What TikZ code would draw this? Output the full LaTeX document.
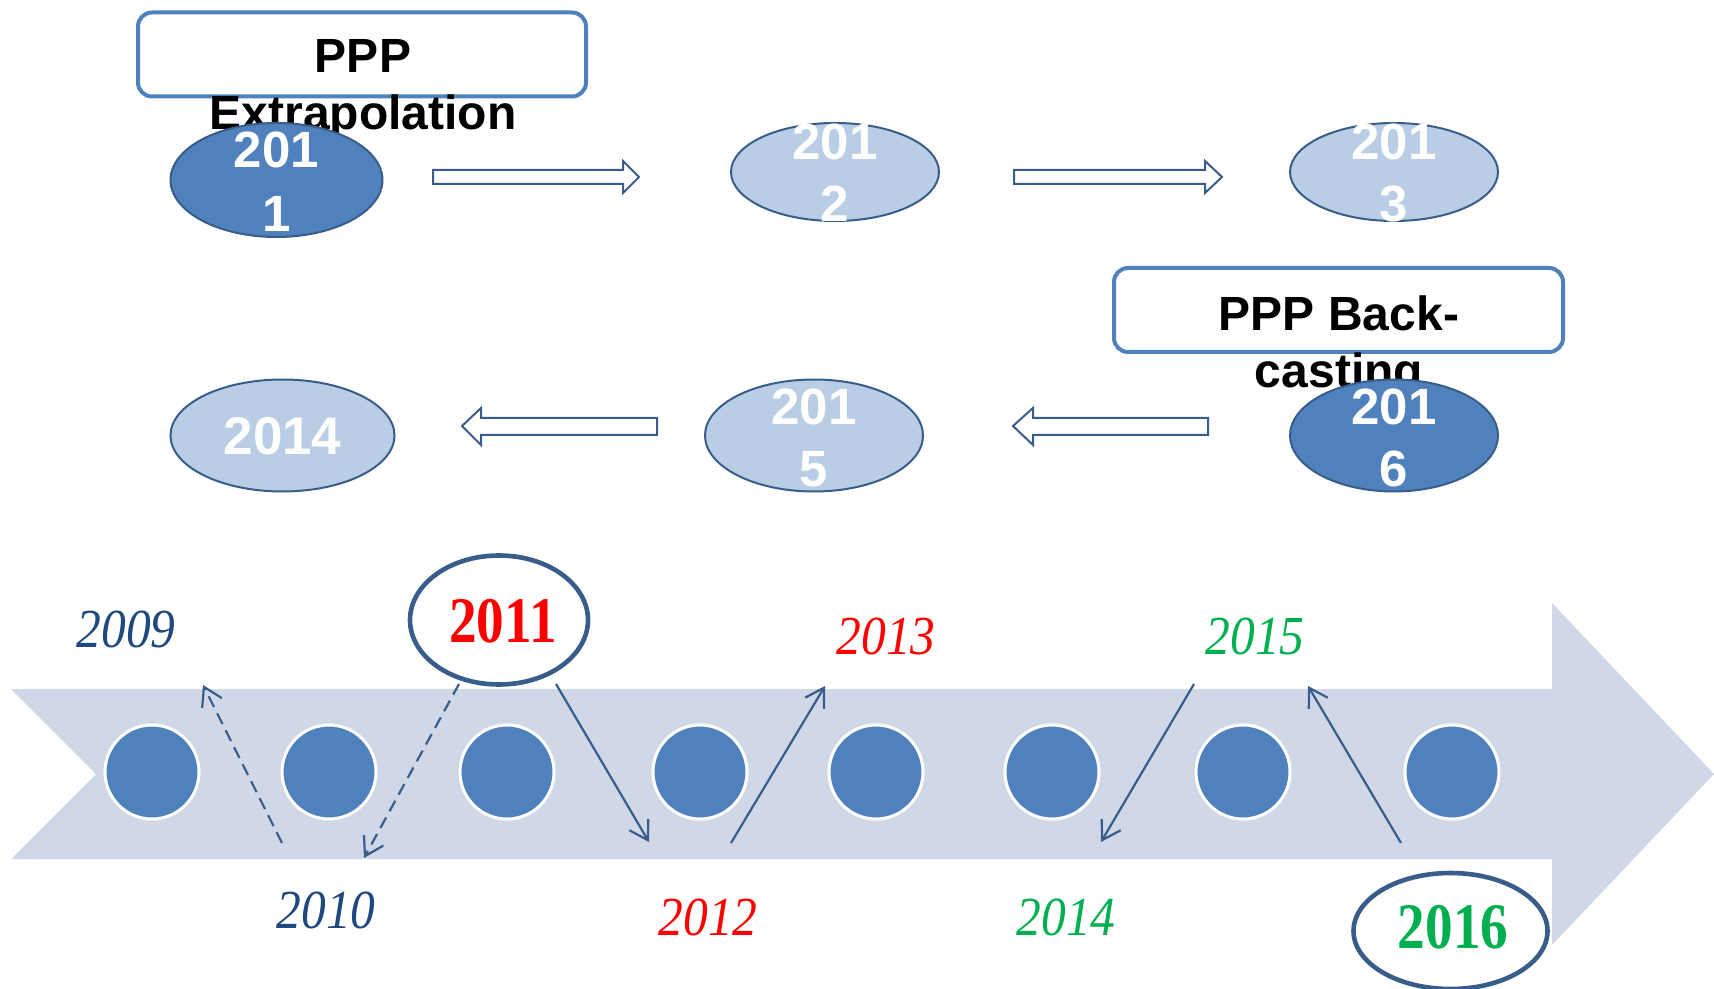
\documentclass[tikz,border=0pt]{standalone}
\usepackage{fontspec}
\setmainfont{Liberation Serif}
\newfontfamily\arialf{Liberation Sans}
\usetikzlibrary{arrows.meta,shapes.geometric}
\definecolor{accent}{HTML}{4F81BD}
\definecolor{edgeblue}{HTML}{385D8A}
\definecolor{lightblue}{HTML}{B9CDE5}
\definecolor{bandcol}{HTML}{D0D8E8}
\definecolor{navy}{HTML}{1F497D}
\definecolor{grn}{HTML}{00B050}
\definecolor{rd}{HTML}{FF0000}
\tikzset{
  titlebox/.style={draw=accent,line width=2pt,rounded corners=7pt,fill=white,minimum width=224pt,minimum height=42pt,inner sep=0pt},
  titletext/.style={font=\arialf\bfseries\fontsize{24}{28}\selectfont,text=black,anchor=base,inner sep=0pt},
  darkell/.style={ellipse,draw=edgeblue,line width=1pt,fill=accent,inner sep=0pt},
  lightell/.style={ellipse,draw=edgeblue,line width=1pt,fill=lightblue,inner sep=0pt},
  elltext/.style={font=\arialf\bfseries\fontsize{25.5}{30}\selectfont,text=white,anchor=base,inner sep=0pt},
  blkarrow/.style={draw=edgeblue,line width=1pt,fill=white,line join=miter},
  dot/.style={circle,fill=accent,draw=white,line width=1.5pt,minimum size=47pt,inner sep=0pt},
  yearit/.style={font=\itshape\fontsize{27.5}{30}\selectfont,inner sep=0pt},
  yearring/.style={ellipse,draw=edgeblue,line width=2.3pt,fill=white,inner sep=0pt},
  ringtext/.style={font=\bfseries\fontsize{32.5}{36}\selectfont,inner sep=0pt},
  conn/.style={draw=edgeblue,line width=1.1pt,-{Straight Barb[length=9pt,width=11pt]}},
  dconn/.style={conn,dash pattern=on 6pt off 3.5pt},
}
\begin{document}
\begin{tikzpicture}[x=0.5pt,y=-0.5pt]
\useasboundingbox (0,0) rectangle (1714,989);
% ---------- top part ----------
\node[titlebox] (box1) at (362,54.5) {};
\node[titletext] (t1a) at (363,73) {PPP};
\node[titletext] (t1b) at (363,130) {Extrapolation};
\node[titlebox,minimum width=224.5pt] (box2) at (1338.5,310) {};
\node[titletext] (t2a) at (1339,331) {PPP Back-};
\node[titletext] (t2b) at (1339,388) {casting};

\node[darkell,minimum width=106pt,minimum height=57pt] (e2011) at (276.5,180) {};
\node[elltext] (e2011a) at (276.5,168) {201};
\node[elltext] (e2011b) at (276.5,232) {1};

\node[lightell,minimum width=104pt,minimum height=49pt] (e2012) at (835,172) {};
\node[elltext] (e2012a) at (835,160) {201};
\node[elltext] (e2012b) at (835,222) {2};

\node[lightell,minimum width=104pt,minimum height=49pt] (e2013) at (1394,172) {};
\node[elltext] (e2013a) at (1394,160) {201};
\node[elltext] (e2013b) at (1394,222) {3};

\node[lightell,minimum width=112pt,minimum height=56pt] (e2014) at (282.5,435.5) {};
\node[elltext,font=\arialf\bfseries\fontsize{26.5}{30}\selectfont] (e2014a) at (282.5,455) {2014};

\node[lightell,minimum width=109pt,minimum height=56pt] (e2015) at (814,435.5) {};
\node[elltext] (e2015a) at (814,425) {201};
\node[elltext] (e2015b) at (814,487) {5};

\node[darkell,minimum width=104pt,minimum height=56pt] (e2016) at (1394,435.5) {};
\node[elltext] (e2016a) at (1394,425) {201};
\node[elltext] (e2016b) at (1394,487) {6};

% block arrows
\draw[blkarrow] (433,170) -- (623,170) -- (623,161) -- (639,177) -- (623,193) -- (623,184) -- (433,184) -- cycle;
\draw[blkarrow] (1014,170) -- (1205,170) -- (1205,161) -- (1222,177) -- (1205,193) -- (1205,184) -- (1014,184) -- cycle;
\draw[blkarrow] (657,418) -- (481,418) -- (481,408) -- (462,426) -- (481,445) -- (481,435) -- (657,435) -- cycle;
\draw[blkarrow] (1208,418) -- (1033,418) -- (1033,408) -- (1013,426) -- (1033,445) -- (1033,435) -- (1208,435) -- cycle;

% ---------- timeline ----------
\fill[bandcol] (11,689) -- (1552,689) -- (1552,603) -- (1714,774) -- (1552,945) -- (1552,859) -- (11,859) -- (96,774) -- cycle;

\foreach \i/\x in {1/152,2/329,3/507,4/700,5/876,6/1052,7/1243,8/1452}
  \node[dot] (c\i) at (\x,772) {};

\node[yearit,text=navy] (y2009) at (126,629) {\scalebox{0.9}[1]{2009}};
\node[yearit,text=navy] (y2010) at (326,910) {\scalebox{0.9}[1]{2010}};
\node[yearit,text=rd] (y2012) at (708,917) {\scalebox{0.9}[1]{2012}};
\node[yearit,text=rd] (y2013) at (886,636) {\scalebox{0.9}[1]{2013}};
\node[yearit,text=grn] (y2014) at (1066,917) {\scalebox{0.9}[1]{2014}};
\node[yearit,text=grn] (y2015) at (1255,636) {\scalebox{0.9}[1]{2015}};

\node[yearring,minimum width=89pt,minimum height=64.5pt] (y2011) at (499,620) {};
\node[ringtext,text=rd] (y2011t) at (503,621) {\scalebox{0.85}[1]{2011}};
\node[yearring,minimum width=97pt,minimum height=58pt] (y2016) at (1450.5,931) {};
\node[ringtext,text=grn] (y2016t) at (1453,927) {\scalebox{0.85}[1]{2016}};

% connector end points
\coordinate (p1s) at (282,843);  \coordinate (p1e) at (203,685);
\coordinate (p2s) at (459,684);  \coordinate (p2e) at (364,858);
\coordinate (p3s) at (556,684);  \coordinate (p3e) at (649,842);
\coordinate (p4s) at (731,843);  \coordinate (p4e) at (825,686);
\coordinate (p5s) at (1194,684); \coordinate (p5e) at (1101,842);
\coordinate (p6s) at (1401,843); \coordinate (p6e) at (1308,686);

\draw[dconn] (p1s) -- (p1e);
\draw[dconn] (p2s) -- (p2e);
\draw[conn] (p3s) -- (p3e);
\draw[conn] (p4s) -- (p4e);
\draw[conn] (p5s) -- (p5e);
\draw[conn] (p6s) -- (p6e);
\end{tikzpicture}
\end{document}
